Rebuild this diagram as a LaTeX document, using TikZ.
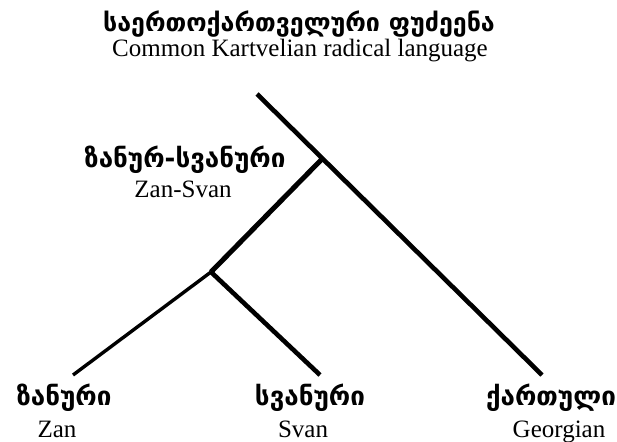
\documentclass[tikz,border=0pt]{standalone}
\usepackage{fontspec}
\setmainfont{Liberation Serif}
\newfontfamily\geofont{DejaVu Sans}
\begin{document}
\begin{tikzpicture}[x=1pt,y=-1pt,
  geo/.style={font=\geofont\bfseries\fontsize{26}{30}\selectfont, inner sep=0pt, anchor=center, text=black},
  eng/.style={font=\fontsize{25}{30}\selectfont, inner sep=0pt, anchor=base, text=black},
  branch/.style={line width=4.6pt, line cap=butt, draw=black}]
\useasboundingbox (0,0) rectangle (617,441);
% labels
\node[geo, font=\geofont\bfseries\fontsize{25}{30}\selectfont] (titleka) at (299,24) {საერთოქართველური ფუძეენა};
\node[eng] (titleen) at (300,57) {Common Kartvelian radical language};
\node[geo] (zska) at (185,160) {ზანურ-სვანური};
\node[eng] (zsen) at (183,197) {Zan-Svan};
\node[geo] (zanka) at (64,398) {ზანური};
\node[eng] (zanen) at (57,437) {Zan};
\node[geo] (svka) at (310,398) {სვანური};
\node[eng] (sven) at (303,437) {Svan};
\node[geo] (kaka) at (551,398) {ქართული};
\node[eng] (kaen) at (559,437) {Georgian};
% tree
\coordinate (root) at (257,94);
\coordinate (geoend) at (542,375);
\coordinate (zs) at (322,159);
\coordinate (zsb) at (211,272);
\coordinate (svend) at (320,375);
\coordinate (zanend) at (73,375);
\draw[branch] (root) -- (geoend);
\draw[branch, line width=5pt] (zsb) -- (zs);
\draw[branch] (zsb) -- (svend);
\draw[branch, line width=3.4pt] (zsb) -- (zanend);
\end{tikzpicture}
\end{document}
